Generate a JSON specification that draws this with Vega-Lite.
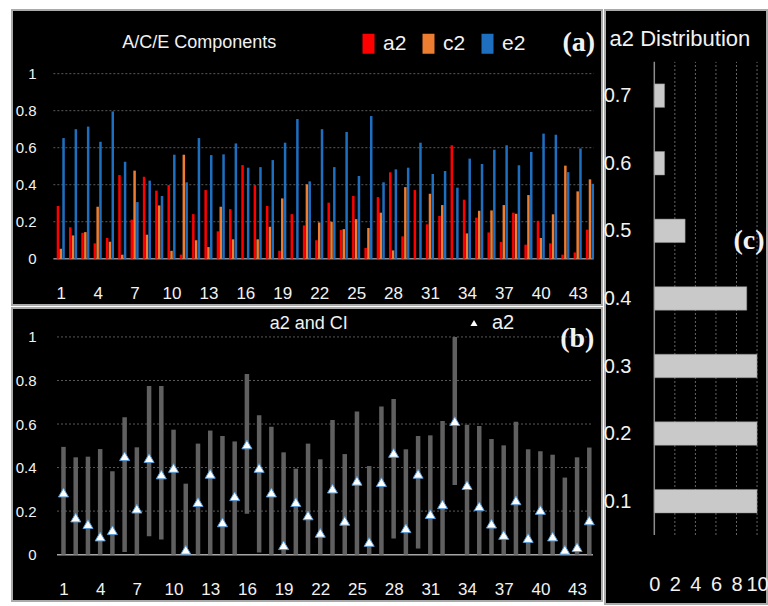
{
  "$schema": "https://vega.github.io/schema/vega-lite/v6.json",
  "background": "white",
  "padding": {"left": 11, "top": 9, "right": 0, "bottom": 0},
  "config": {
    "view": {"stroke": "#aaaaaa", "strokeWidth": 2, "fill": "black"},
    "axis": {"grid": false, "domain": false, "ticks": false, "labelColor": "#f2f2f2", "labelFont": "Liberation Sans", "labelFlush": false},
    "legend": {"labelColor": "#f2f2f2", "labelFont": "Liberation Sans", "padding": 0},
    "text": {"color": "#f2f2f2", "font": "Liberation Sans"}
  },
  "datasets": {
    "d": [
      {"i": 1, "a2": 0.285, "c2": 0.054, "e2": 0.652, "lo": 0, "hi": 0.495},
      {"i": 2, "a2": 0.17, "c2": 0.126, "e2": 0.70, "lo": 0, "hi": 0.447},
      {"i": 3, "a2": 0.14, "c2": 0.144, "e2": 0.714, "lo": 0, "hi": 0.45},
      {"i": 4, "a2": 0.083, "c2": 0.281, "e2": 0.632, "lo": 0, "hi": 0.485},
      {"i": 5, "a2": 0.112, "c2": 0.092, "e2": 0.796, "lo": 0, "hi": 0.383},
      {"i": 6, "a2": 0.452, "c2": 0.022, "e2": 0.524, "lo": 0.012, "hi": 0.631},
      {"i": 7, "a2": 0.211, "c2": 0.476, "e2": 0.306, "lo": 0, "hi": 0.493},
      {"i": 8, "a2": 0.443, "c2": 0.13, "e2": 0.422, "lo": 0.084, "hi": 0.775},
      {"i": 9, "a2": 0.368, "c2": 0.288, "e2": 0.339, "lo": 0.07, "hi": 0.775},
      {"i": 10, "a2": 0.398, "c2": 0.043, "e2": 0.562, "lo": 0, "hi": 0.574},
      {"i": 11, "a2": 0.022, "c2": 0.562, "e2": 0.413, "lo": 0, "hi": 0.326},
      {"i": 12, "a2": 0.241, "c2": 0.10, "e2": 0.652, "lo": 0, "hi": 0.51},
      {"i": 13, "a2": 0.371, "c2": 0.063, "e2": 0.56, "lo": 0, "hi": 0.57},
      {"i": 14, "a2": 0.148, "c2": 0.281, "e2": 0.564, "lo": 0, "hi": 0.545},
      {"i": 15, "a2": 0.268, "c2": 0.105, "e2": 0.623, "lo": 0, "hi": 0.52},
      {"i": 16, "a2": 0.506, "c2": 0, "e2": 0.492, "lo": 0.188, "hi": 0.83},
      {"i": 17, "a2": 0.398, "c2": 0.105, "e2": 0.495, "lo": 0.01, "hi": 0.64},
      {"i": 18, "a2": 0.285, "c2": 0.173, "e2": 0.533, "lo": 0, "hi": 0.587},
      {"i": 19, "a2": 0.043, "c2": 0.326, "e2": 0.627, "lo": 0, "hi": 0.47},
      {"i": 20, "a2": 0.241, "c2": 0, "e2": 0.755, "lo": 0, "hi": 0.395},
      {"i": 21, "a2": 0.18, "c2": 0.402, "e2": 0.418, "lo": 0, "hi": 0.51},
      {"i": 22, "a2": 0.10, "c2": 0.196, "e2": 0.70, "lo": 0, "hi": 0.438},
      {"i": 23, "a2": 0.303, "c2": 0.20, "e2": 0.495, "lo": 0, "hi": 0.619},
      {"i": 24, "a2": 0.155, "c2": 0.16, "e2": 0.685, "lo": 0, "hi": 0.462},
      {"i": 25, "a2": 0.339, "c2": 0.214, "e2": 0.447, "lo": 0, "hi": 0.658},
      {"i": 26, "a2": 0.058, "c2": 0.166, "e2": 0.771, "lo": 0, "hi": 0.407},
      {"i": 27, "a2": 0.333, "c2": 0.249, "e2": 0.413, "lo": 0, "hi": 0.68},
      {"i": 28, "a2": 0.467, "c2": 0.045, "e2": 0.483, "lo": 0.074, "hi": 0.715},
      {"i": 29, "a2": 0.121, "c2": 0.387, "e2": 0.492, "lo": 0, "hi": 0.484},
      {"i": 30, "a2": 0.371, "c2": 0, "e2": 0.627, "lo": 0.028, "hi": 0.545},
      {"i": 31, "a2": 0.186, "c2": 0.351, "e2": 0.458, "lo": 0, "hi": 0.548},
      {"i": 32, "a2": 0.231, "c2": 0.29, "e2": 0.474, "lo": 0, "hi": 0.614},
      {"i": 33, "a2": 0.613, "c2": 0, "e2": 0.384, "lo": 0.32, "hi": 1.0},
      {"i": 34, "a2": 0.319, "c2": 0.137, "e2": 0.541, "lo": 0, "hi": 0.597},
      {"i": 35, "a2": 0.222, "c2": 0.259, "e2": 0.512, "lo": 0, "hi": 0.591},
      {"i": 36, "a2": 0.142, "c2": 0.261, "e2": 0.589, "lo": 0, "hi": 0.531},
      {"i": 37, "a2": 0.09, "c2": 0.29, "e2": 0.613, "lo": 0, "hi": 0.502},
      {"i": 38, "a2": 0.249, "c2": 0.243, "e2": 0.505, "lo": 0, "hi": 0.61},
      {"i": 39, "a2": 0.076, "c2": 0.344, "e2": 0.577, "lo": 0, "hi": 0.484},
      {"i": 40, "a2": 0.205, "c2": 0.112, "e2": 0.676, "lo": 0, "hi": 0.475},
      {"i": 41, "a2": 0.083, "c2": 0.24, "e2": 0.67, "lo": 0, "hi": 0.459},
      {"i": 42, "a2": 0.022, "c2": 0.503, "e2": 0.468, "lo": 0, "hi": 0.354},
      {"i": 43, "a2": 0.034, "c2": 0.364, "e2": 0.596, "lo": 0, "hi": 0.447},
      {"i": 44, "a2": 0.157, "c2": 0.429, "e2": 0.405, "lo": 0, "hi": 0.492}
    ],
    "g": [{"g": 0.2}, {"g": 0.4}, {"g": 0.6}, {"g": 0.8}, {"g": 1}],
    "h": [
      {"bin": 0.1, "n": 10}, {"bin": 0.2, "n": 10}, {"bin": 0.3, "n": 10},
      {"bin": 0.4, "n": 9}, {"bin": 0.5, "n": 3}, {"bin": 0.6, "n": 1}, {"bin": 0.7, "n": 1}
    ],
    "v": [{"v": 2}, {"v": 4}, {"v": 6}, {"v": 8}, {"v": 10}],
    "one": [{}]
  },
  "spacing": -1,
  "resolve": {"scale": {"color": "independent", "shape": "independent", "x": "independent", "y": "independent"}, "legend": {"color": "independent", "shape": "independent"}},
  "hconcat": [
    {
      "spacing": 1,
      "resolve": {"scale": {"color": "independent", "shape": "independent", "x": "independent", "y": "independent"}, "legend": {"color": "independent", "shape": "independent"}},
      "vconcat": [
        {
          "width": 590,
          "height": 295,
          "layer": [
            {
              "data": {"name": "g"},
              "mark": {"type": "rule", "color": "#5a5a5a", "strokeDash": [2, 2], "strokeWidth": 1},
              "encoding": {
                "y": {"field": "g", "type": "quantitative", "title": null, "scale": {"domain": [-0.25, 1.344], "nice": false, "zero": false},
                      "axis": {"orient": "left", "offset": -26, "labelPadding": 2, "values": [0, 0.2, 0.4, 0.6, 0.8, 1], "format": ".1~f", "labelFontSize": 15, "labelOverlap": false, "title": null}},
                "x": {"datum": 0.4, "type": "quantitative", "title": null, "scale": {"domain": [-2.554, 44.57], "nice": false, "zero": false},
                      "axis": {"orient": "bottom", "offset": -22, "labelPadding": 2, "values": [1, 4, 7, 10, 13, 16, 19, 22, 25, 28, 31, 34, 37, 40, 43], "format": "d", "labelFontSize": 17, "labelOverlap": false, "title": null}},
                "x2": {"datum": 44.3}
              }
            },
            {
              "data": {"name": "one"},
              "mark": {"type": "rule", "color": "#8c8c8c", "strokeWidth": 1.5},
              "encoding": {"y": {"datum": 0, "title": null}, "x": {"datum": 0.4, "title": null}, "x2": {"datum": 44.3}}
            },
            {
              "data": {"name": "d"},
              "mark": {"type": "bar", "orient": "vertical", "width": 2.5, "xOffset": -2.8},
              "encoding": {
                "x": {"field": "i", "type": "quantitative", "title": null},
                "y": {"field": "a2", "type": "quantitative", "title": null},
                "color": {"datum": "a2", "scale": {"domain": ["a2", "c2", "e2"], "range": ["#ff0000", "#ed7d31", "#1f6fc1"]},
                          "legend": {"orient": "none", "legendX": 346, "legendY": 23, "direction": "horizontal", "title": null, "symbolType": "M-0.6,-1H0.6V1H-0.6Z", "symbolSize": 400, "symbolStrokeWidth": 0, "labelFontSize": 21, "labelOffset": 4, "columnPadding": 11}}
              }
            },
            {
              "data": {"name": "d"},
              "mark": {"type": "bar", "orient": "vertical", "width": 2.5, "xOffset": 0},
              "encoding": {
                "x": {"field": "i", "type": "quantitative", "title": null},
                "y": {"field": "c2", "type": "quantitative", "title": null},
                "color": {"datum": "c2"}
              }
            },
            {
              "data": {"name": "d"},
              "mark": {"type": "bar", "orient": "vertical", "width": 2.5, "xOffset": 2.8},
              "encoding": {
                "x": {"field": "i", "type": "quantitative", "title": null},
                "y": {"field": "e2", "type": "quantitative", "title": null},
                "color": {"datum": "e2"}
              }
            },
            {
              "data": {"name": "one"},
              "mark": {"type": "text", "text": "A/C/E Components", "fontSize": 18, "align": "left", "baseline": "middle"},
              "encoding": {"x": {"datum": 5.99, "title": null}, "y": {"datum": 1.166, "title": null}}
            },
            {
              "data": {"name": "one"},
              "mark": {"type": "text", "text": "(a)", "font": "Liberation Serif", "fontWeight": "bold", "fontSize": 28, "align": "center", "baseline": "middle"},
              "encoding": {"x": {"datum": 43.09, "title": null}, "y": {"datum": 1.163, "title": null}}
            }
          ]
        },
        {
          "width": 590,
          "height": 293,
          "layer": [
            {
              "data": {"name": "g"},
              "mark": {"type": "rule", "color": "#5a5a5a", "strokeDash": [2, 2], "strokeWidth": 1},
              "encoding": {
                "y": {"field": "g", "type": "quantitative", "title": null, "scale": {"domain": [-0.213, 1.133], "nice": false, "zero": false},
                      "axis": {"orient": "left", "offset": -26, "labelPadding": 2, "values": [0, 0.2, 0.4, 0.6, 0.8, 1], "format": ".1~f", "labelFontSize": 15, "labelOverlap": false, "title": null}},
                "x": {"datum": 0.47, "type": "quantitative", "title": null, "scale": {"domain": [-2.802, 44.63], "nice": false, "zero": false},
                      "axis": {"orient": "bottom", "offset": -22, "labelPadding": 2, "values": [1, 4, 7, 10, 13, 16, 19, 22, 25, 28, 31, 34, 37, 40, 43], "format": "d", "labelFontSize": 17, "labelOverlap": false, "title": null}},
                "x2": {"datum": 44.3}
              }
            },
            {
              "data": {"name": "one"},
              "mark": {"type": "rule", "color": "#a6a6a6", "strokeWidth": 1.5},
              "encoding": {"y": {"datum": 0, "title": null}, "x": {"datum": 0.47, "title": null}, "x2": {"datum": 44.3}}
            },
            {
              "data": {"name": "d"},
              "mark": {"type": "bar", "orient": "vertical", "width": 4.5, "color": "#606060"},
              "encoding": {
                "x": {"field": "i", "type": "quantitative", "title": null},
                "y": {"field": "lo", "type": "quantitative", "title": null},
                "y2": {"field": "hi"}
              }
            },
            {
              "data": {"name": "d"},
              "mark": {"type": "point", "filled": true, "color": "white", "stroke": "#5b9bd5", "strokeWidth": 1, "size": 100, "opacity": 1},
              "encoding": {
                "x": {"field": "i", "type": "quantitative", "title": null},
                "y": {"field": "a2", "type": "quantitative", "title": null},
                "shape": {"datum": "a2", "scale": {"domain": ["a2"], "range": ["triangle-up"]},
                          "legend": {"orient": "none", "legendX": 452, "legendY": 5, "title": null, "symbolSize": 50, "labelFontSize": 20, "labelOffset": 8, "symbolFillColor": "white", "symbolStrokeColor": "#5b9bd5", "symbolStrokeWidth": 1}}
              }
            },
            {
              "data": {"name": "one"},
              "mark": {"type": "text", "text": "a2 and CI", "fontSize": 18, "align": "left", "baseline": "middle"},
              "encoding": {"x": {"datum": 17.86, "title": null}, "y": {"datum": 1.06, "title": null}}
            },
            {
              "data": {"name": "one"},
              "mark": {"type": "text", "text": "(b)", "font": "Liberation Serif", "fontWeight": "bold", "fontSize": 28, "align": "center", "baseline": "middle"},
              "encoding": {"x": {"datum": 43.02, "title": null}, "y": {"datum": 0.991, "title": null}}
            }
          ]
        }
      ]
    },
    {
      "width": 162,
      "height": 594,
      "layer": [
        {
          "data": {"name": "v"},
          "mark": {"type": "rule", "color": "#666666", "strokeDash": [2, 2], "strokeWidth": 1},
          "encoding": {
            "x": {"field": "v", "type": "quantitative", "title": null, "scale": {"domain": [-4.8, 10.97], "nice": false, "zero": false},
                  "axis": {"orient": "bottom", "offset": -32, "labelPadding": 2, "values": [0, 2, 4, 6, 8, 10], "format": "d", "labelFontSize": 20, "labelOverlap": false, "title": null}},
            "y": {"datum": 0.05, "type": "quantitative", "title": null, "scale": {"domain": [-0.0447, 0.8193], "nice": false, "zero": false},
                  "axis": {"orient": "left", "offset": -28, "labelPadding": 2, "values": [0.1, 0.2, 0.3, 0.4, 0.5, 0.6, 0.7], "format": ".1f", "labelFontSize": 20, "labelOverlap": false, "title": null}},
            "y2": {"datum": 0.75}
          }
        },
        {
          "data": {"name": "one"},
          "mark": {"type": "rule", "color": "#8c8c8c", "strokeWidth": 1.5},
          "encoding": {
            "x": {"datum": 0, "title": null, "axis": {"orient": "bottom", "offset": -32, "labelPadding": 2, "values": [0, 2, 4, 6, 8, 10], "format": "d", "labelFontSize": 20, "labelOverlap": false, "title": null}},
            "y": {"datum": 0.05, "title": null},
            "y2": {"datum": 0.75}
          }
        },
        {
          "data": {"name": "h"},
          "mark": {"type": "bar", "orient": "horizontal", "height": 23.5, "color": "#c9c9c9", "stroke": "#8c8c8c", "strokeWidth": 0.5},
          "encoding": {
            "x": {"field": "n", "type": "quantitative", "title": null, "axis": {"orient": "bottom", "offset": -32, "labelPadding": 2, "values": [0, 2, 4, 6, 8, 10], "format": "d", "labelFontSize": 20, "labelOverlap": false, "title": null}},
            "y": {"field": "bin", "type": "quantitative", "title": null}
          }
        },
        {
          "data": {"name": "one"},
          "mark": {"type": "text", "text": "a2 Distribution", "fontSize": 22, "align": "left", "baseline": "middle"},
          "encoding": {
            "x": {"datum": -4.35, "title": null, "axis": {"orient": "bottom", "offset": -32, "labelPadding": 2, "values": [0, 2, 4, 6, 8, 10], "format": "d", "labelFontSize": 20, "labelOverlap": false, "title": null}},
            "y": {"datum": 0.7844, "title": null}
          }
        },
        {
          "data": {"name": "one"},
          "mark": {"type": "text", "text": "(c)", "font": "Liberation Serif", "fontWeight": "bold", "fontSize": 28, "align": "center", "baseline": "middle"},
          "encoding": {
            "x": {"datum": 9.22, "title": null, "axis": {"orient": "bottom", "offset": -32, "labelPadding": 2, "values": [0, 2, 4, 6, 8, 10], "format": "d", "labelFontSize": 20, "labelOverlap": false, "title": null}},
            "y": {"datum": 0.4847, "title": null}
          }
        }
      ]
    }
  ]
}
